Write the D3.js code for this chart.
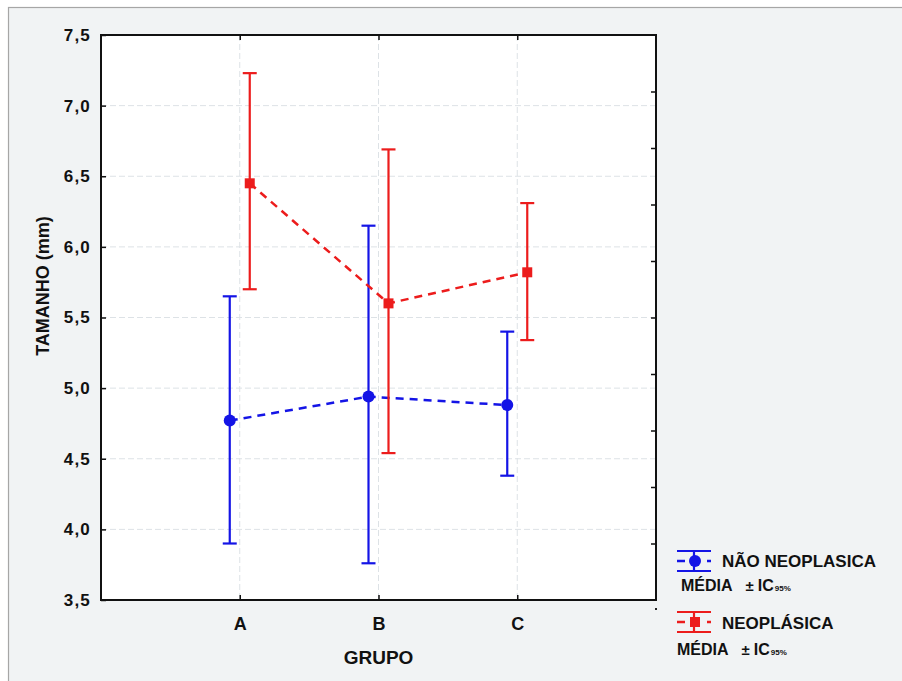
<!DOCTYPE html>
<html>
<head>
<meta charset="utf-8">
<script src="https://cdn.jsdelivr.net/npm/d3@7"></script>
<style>
  html, body { margin: 0; padding: 0; background: #ffffff; }
  svg { display: block; }
  text { font-family: "Liberation Sans", Arial, Helvetica, sans-serif; font-weight: bold; fill: #111; }
</style>
</head>
<body>
<svg id="chart" width="902" height="681"></svg>
<script>
// Mean size with 95% confidence interval by group
const groups = ["A", "B", "C"];

const naoMean = [4.77, 4.94, 4.88];
const naoLow  = [3.90, 3.76, 4.38];
const naoHigh = [5.65, 6.15, 5.40];

const neoMean = [6.45, 5.60, 5.82];
const neoLow  = [5.70, 4.54, 5.34];
const neoHigh = [7.23, 6.69, 6.31];

const yTicks = [3.5, 4.0, 4.5, 5.0, 5.5, 6.0, 6.5, 7.0, 7.5];

const seriesNames = ["NÃO NEOPLASICA", "NEOPLÁSICA"];
const seriesColors = ["#1414e6", "#ec1c1c"];

const svg = d3.select("#chart");
const W = 902, H = 681;
const plot = { left: 101, top: 35, right: 656, bottom: 600 };

// page background and outer frame
svg.append("rect").attr("width", W).attr("height", H).attr("fill", "#ffffff");
svg.append("rect").attr("x", 8.5).attr("y", 7.5).attr("width", W).attr("height", H)
  .attr("fill", "#f1f3f4").attr("stroke", "#a6a6a6").attr("stroke-width", 1.2);

const x = d3.scalePoint().domain(groups).range([plot.left, plot.right]).padding(1);
const y = d3.scaleLinear().domain([3.5, 7.5]).range([plot.bottom, plot.top]);
const yRight = d3.scaleLinear().domain([0, 10]).range([plot.bottom, plot.top]);

// plot area
svg.append("rect")
  .attr("x", plot.left).attr("y", plot.top)
  .attr("width", plot.right - plot.left).attr("height", plot.bottom - plot.top)
  .attr("fill", "#ffffff");

// grid
const grid = svg.append("g").attr("stroke", "#dde2e6").attr("stroke-width", 1).attr("stroke-dasharray", "6,3");
grid.selectAll("line.h").data(yTicks.slice(1, -1)).join("line")
  .attr("x1", plot.left).attr("x2", plot.right)
  .attr("y1", d => y(d)).attr("y2", d => y(d));
grid.selectAll("line.v").data(groups).join("line")
  .attr("x1", d => x(d)).attr("x2", d => x(d))
  .attr("y1", plot.top).attr("y2", plot.bottom);

// axes (ticks point inward)
const fmt = d => d.toFixed(1).replace(".", ",");
const axisStyle = g => {
  g.select(".domain").remove();
  g.selectAll(".tick line").attr("stroke", "#111").attr("stroke-width", 1.5);
};

svg.append("g").attr("transform", `translate(${plot.left},0)`)
  .call(d3.axisLeft(y).tickValues(yTicks).tickSize(-5).tickPadding(10).tickFormat(fmt))
  .call(axisStyle)
  .call(g => g.selectAll(".tick text")
    .attr("font-size", 17).attr("letter-spacing", "1.2px")
    .attr("font-family", '"Liberation Sans", Arial, sans-serif').attr("font-weight", "bold").attr("fill", "#111"));

svg.append("g").attr("transform", `translate(0,${plot.bottom})`)
  .call(d3.axisBottom(x).tickSize(-5).tickPadding(17))
  .call(axisStyle)
  .call(g => g.selectAll(".tick text")
    .attr("font-size", 18)
    .attr("font-family", '"Liberation Sans", Arial, sans-serif').attr("font-weight", "bold").attr("fill", "#111"));

svg.append("g").attr("transform", `translate(0,${plot.top})`)
  .call(d3.axisTop(x).tickSize(-5).tickFormat(""))
  .call(axisStyle);

svg.append("g").attr("transform", `translate(${plot.right},0)`)
  .call(d3.axisRight(yRight).tickValues(d3.range(1, 10)).tickSize(-5).tickFormat(""))
  .call(axisStyle);

// plot frame
svg.append("rect")
  .attr("x", plot.left).attr("y", plot.top)
  .attr("width", plot.right - plot.left).attr("height", plot.bottom - plot.top)
  .attr("fill", "none").attr("stroke", "#111").attr("stroke-width", 2);
svg.append("rect").attr("x", plot.right - 1).attr("y", 608).attr("width", 2).attr("height", 2).attr("fill", "#222");

// axis titles
svg.append("text")
  .attr("transform", `translate(49,286) rotate(-90)`)
  .attr("text-anchor", "middle").attr("font-size", 18)
  .text("TAMANHO (mm)");
svg.append("text")
  .attr("x", x("B")).attr("y", 664)
  .attr("text-anchor", "middle").attr("font-size", 19)
  .text("GRUPO");

// series
const series = [
  { name: seriesNames[0], color: seriesColors[0], mean: naoMean, low: naoLow, high: naoHigh, dx: -10, shape: "circle" },
  { name: seriesNames[1], color: seriesColors[1], mean: neoMean, low: neoLow, high: neoHigh, dx: 10, shape: "square" }
];

const cap = 7;
series.forEach(s => {
  const pts = groups.map((g, i) => ({ g, m: s.mean[i], lo: s.low[i], hi: s.high[i], cx: x(g) + s.dx }));
  const g = svg.append("g");

  g.append("path")
    .datum(pts)
    .attr("fill", "none").attr("stroke", s.color).attr("stroke-width", 2.5)
    .attr("stroke-dasharray", "8,6")
    .attr("d", d3.line().x(d => d.cx).y(d => y(d.m)));

  const bars = g.selectAll("g.bar").data(pts).join("g").attr("stroke", s.color).attr("stroke-width", 2.2);
  bars.append("line").attr("x1", d => d.cx).attr("x2", d => d.cx).attr("y1", d => y(d.lo)).attr("y2", d => y(d.hi));
  bars.append("line").attr("x1", d => d.cx - cap).attr("x2", d => d.cx + cap).attr("y1", d => y(d.hi)).attr("y2", d => y(d.hi));
  bars.append("line").attr("x1", d => d.cx - cap).attr("x2", d => d.cx + cap).attr("y1", d => y(d.lo)).attr("y2", d => y(d.lo));

  if (s.shape === "circle") {
    g.selectAll("circle").data(pts).join("circle")
      .attr("cx", d => d.cx).attr("cy", d => y(d.m)).attr("r", 6).attr("fill", s.color);
  } else {
    g.selectAll("rect").data(pts).join("rect")
      .attr("x", d => d.cx - 5).attr("y", d => y(d.m) - 5).attr("width", 10).attr("height", 10).attr("fill", s.color);
  }
});

// legend
const legendRows = [
  { cy: 561, textY: 567, subX: 681, subY: 591 },
  { cy: 622, textY: 629, subX: 677, subY: 655 }
];
series.forEach((s, i) => {
  const r = legendRows[i];
  const lg = svg.append("g");
  const cx = 694;
  const st = { stroke: s.color, "stroke-width": 2.2 };
  const ln = (x1, y1, x2, y2) => {
    const l = lg.append("line").attr("x1", x1).attr("y1", y1).attr("x2", x2).attr("y2", y2);
    Object.entries(st).forEach(([k, v]) => l.attr(k, v));
    return l;
  };
  ln(677, r.cy - 10, 711, r.cy - 10);
  ln(677, r.cy + 10, 711, r.cy + 10);
  ln(cx, r.cy - 10, cx, r.cy + 10);
  ln(677, r.cy, 685, r.cy).attr("stroke-width", 2.5);
  ln(707, r.cy, 711, r.cy).attr("stroke-width", 2.5);
  if (s.shape === "circle") {
    lg.append("circle").attr("cx", cx + 1).attr("cy", r.cy).attr("r", 6).attr("fill", s.color);
  } else {
    lg.append("rect").attr("x", cx - 4).attr("y", r.cy - 5).attr("width", 10).attr("height", 10).attr("fill", s.color);
  }
  lg.append("text").attr("x", 722).attr("y", r.textY).attr("font-size", 17).text(s.name);

  const sub = lg.append("text").attr("x", r.subX).attr("y", r.subY).attr("font-size", 16);
  sub.append("tspan").text("MÉDIA");
  sub.append("tspan").attr("dx", 13).attr("font-size", 15).text("±");
  sub.append("tspan").attr("dx", 4).text("IC");
  sub.append("tspan").attr("font-size", 8).attr("dx", 1).text("95%");
});
</script>
</body>
</html>
